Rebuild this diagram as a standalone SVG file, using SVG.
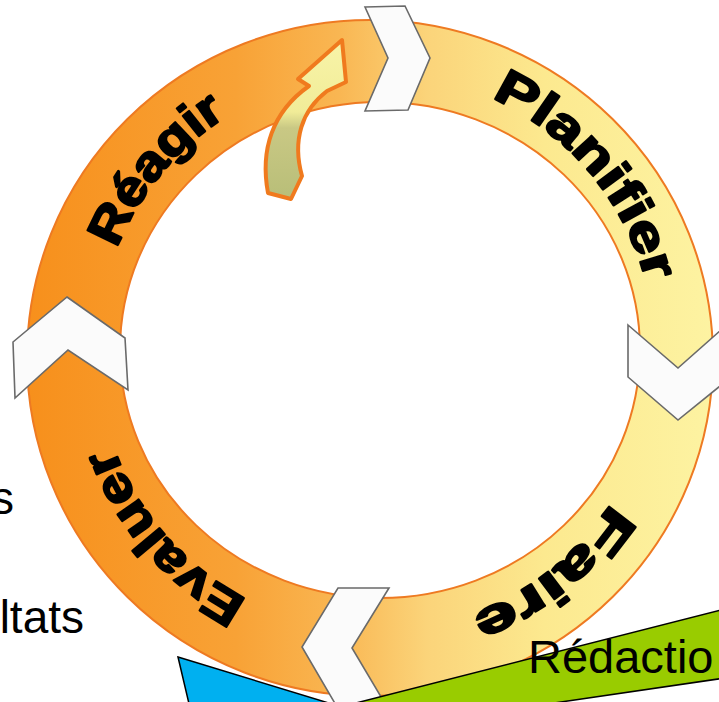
<svg xmlns="http://www.w3.org/2000/svg" width="719" height="702" viewBox="0 0 719 702">
  <defs>
    <linearGradient id="bandGrad" gradientUnits="userSpaceOnUse" x1="30" y1="0" x2="715" y2="0">
      <stop offset="0" stop-color="#F7901C"/>
      <stop offset="0.3" stop-color="#F8A236"/>
      <stop offset="0.45" stop-color="#F9B652"/>
      <stop offset="0.58" stop-color="#FBD47A"/>
      <stop offset="0.75" stop-color="#FCE98F"/>
      <stop offset="1" stop-color="#FDF3A2"/>
    </linearGradient>
    <linearGradient id="arrowGrad" gradientUnits="userSpaceOnUse" x1="0" y1="40" x2="0" y2="200">
      <stop offset="0" stop-color="#F8F4A8"/>
      <stop offset="0.45" stop-color="#F1EC98"/>
      <stop offset="0.55" stop-color="#C9C884"/>
      <stop offset="1" stop-color="#B8BE78"/>
    </linearGradient>
    <path id="textCircle" d="M 97,352 A 279 279 0 1 1 655,352 A 279 279 0 1 1 97,352"/>
    <style>
      .chev { fill: #FBFBFB; stroke: #6A6A6A; stroke-width: 1.6; stroke-linejoin: miter; }
      .stage { font-family: "Liberation Sans", Arial, sans-serif; font-weight: bold; font-size: 49px; fill: #000; stroke: #000; stroke-width: 2.2; stroke-linejoin: round; }
      .plain { font-family: "Liberation Sans", Arial, sans-serif; font-size: 46px; fill: #000; }
      .box { stroke: #000; stroke-width: 1.5; }
    </style>
  </defs>

  <rect width="719" height="702" fill="#FFFFFF"/>

  <g id="ring">
    <path d="M 27,358 A 343 338 0 1 1 713,358 A 343 338 0 1 1 27,358 Z M 120,350 A 260 248 0 1 0 640,350 A 260 248 0 1 0 120,350 Z" fill="url(#bandGrad)" fill-rule="evenodd" stroke="#EE7A22" stroke-width="2"/>
  </g>

  <g id="labels">
    <text class="stage"><textPath href="#textCircle" startOffset="106" textLength="174" lengthAdjust="spacingAndGlyphs">Réagir</textPath></text>
    <text class="stage"><textPath href="#textCircle" startOffset="557" textLength="248" lengthAdjust="spacingAndGlyphs">Planifier</textPath></text>
    <text class="stage"><textPath href="#textCircle" startOffset="1035" textLength="182" lengthAdjust="spacingAndGlyphs">Faire</textPath></text>
    <text class="stage"><textPath href="#textCircle" startOffset="1448" textLength="207" lengthAdjust="spacingAndGlyphs">Evaluer</textPath></text>
  </g>

  <g id="connectors">
    <polygon id="chevron-top" class="chev" points="365,7 405,6 430,58 408,110 365,111 388,58"/>
    <polygon id="chevron-right" class="chev" points="628,325 678,368 730,322 730,378 678,420 628,377"/>
    <polygon id="chevron-bottom" class="chev" points="338,588 389,588 352,648 390,712 340,712 302,647"/>
    <polygon id="chevron-left" class="chev" points="67,297 125,338 128,390 68,350 15,398 13,342"/>
    <path id="curved-arrow" d="M 342,40 L 346,82 L 327,91 C 302,110 292,140 302,176 L 291,199 L 268,193 C 260,150 272,112 309,86 L 298,79 Z" fill="url(#arrowGrad)" stroke="#F07A1E" stroke-width="4" stroke-linejoin="round"/>
  </g>

  <g id="left-text">
    <text class="plain" x="14" y="514" text-anchor="end">s</text>
    <text class="plain" x="84" y="633" text-anchor="end">ltats</text>
  </g>

  <g id="blue-shape">
    <polygon class="box" points="178,657 345,708 190,708" fill="#00B0F0"/>
  </g>

  <g id="green-shape">
    <polygon class="box" points="352,704 725,609 725,678 520,708" fill="#99CC00"/>
    <text class="plain" x="528" y="673" style="font-size:47px">Rédactio</text>
  </g>
</svg>
